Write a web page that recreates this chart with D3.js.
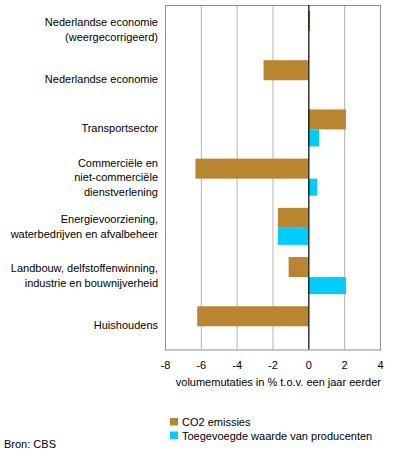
<!DOCTYPE html>
<html>
<head>
<meta charset="utf-8">
<script src="https://cdn.jsdelivr.net/npm/d3@7"></script>
<style>
  body { margin: 0; background: #fff; }
  svg text { font-family: "Liberation Sans", Arial, sans-serif; font-size: 11px; fill: #000; }
</style>
</head>
<body>
<svg id="chart" width="396" height="457"></svg>
<script>
// Categories (each label split into lines)
const categories = [
  ["Nederlandse economie", "(weergecorrigeerd)"],
  ["Nederlandse economie"],
  ["Transportsector"],
  ["Commerciële en", "niet-commerciële", "dienstverlening"],
  ["Energievoorziening,", "waterbedrijven en afvalbeheer"],
  ["Landbouw, delfstoffenwinning,", "industrie en bouwnijverheid"],
  ["Huishoudens"]
];

const seriesNames = ["CO2 emissies", "Toegevoegde waarde van producenten"];
const co2Values = [0.1, -2.5, 2.1, -6.3, -1.7, -1.1, -6.2];
const waardeValues = [null, null, 0.6, 0.5, -1.7, 2.1, null];
const xTicks = [-8, -6, -4, -2, 0, 2, 4];

const colors = ["#b98530", "#00ccff"];

const svg = d3.select("#chart");

// Plot area
const plotLeft = 165, plotRight = 380, plotTop = 5, plotBottom = 349.5;

const x = d3.scaleLinear().domain([-8, 4]).range([plotLeft, plotRight]);

const y0 = d3.scaleBand()
  .domain(d3.range(categories.length))
  .range([plotTop, plotBottom]);

// Sub band for the two series inside a category
const y1 = d3.scaleBand()
  .domain(seriesNames)
  .range([6, 46]);

// Gridlines
svg.append("g")
  .selectAll("line")
  .data(xTicks.filter((d) => d !== 0 && d !== -8 && d !== 4))
  .enter()
  .append("line")
  .attr("x1", (d) => x(d) + 0.5)
  .attr("x2", (d) => x(d) + 0.5)
  .attr("y1", plotTop)
  .attr("y2", plotBottom)
  .attr("stroke", "#b4b4b4")
  .attr("stroke-width", 1);

// Bars
const seriesData = [co2Values, waardeValues];
seriesData.forEach((vals, s) => {
  svg.append("g")
    .selectAll("rect")
    .data(vals.map((v, i) => ({ v, i })).filter((d) => d.v !== null))
    .enter()
    .append("rect")
    .attr("x", (d) => x(Math.min(0, d.v)))
    .attr("y", (d) => y0(d.i) + y1(seriesNames[s]))
    .attr("width", (d) => Math.abs(x(d.v) - x(0)))
    .attr("height", s === 0 ? y1.bandwidth() : y1.bandwidth() - 3)
    .attr("fill", colors[s]);
});

// Plot border
svg.append("rect")
  .attr("x", plotLeft + 0.5)
  .attr("y", plotTop + 0.5)
  .attr("width", plotRight - plotLeft)
  .attr("height", plotBottom - plotTop)
  .attr("fill", "none")
  .attr("stroke", "#8c8c8c")
  .attr("stroke-width", 1);

// Zero line
svg.append("line")
  .attr("x1", x(0) + 0.5)
  .attr("x2", x(0) + 0.5)
  .attr("y1", plotTop)
  .attr("y2", plotBottom)
  .attr("stroke", "#000")
  .attr("stroke-width", 1.2);

// X axis labels (plain hyphen minus, as in the reference)
const xAxis = svg.append("g")
  .attr("transform", `translate(0, ${plotBottom + 12})`)
  .call(d3.axisBottom(x).tickValues(xTicks).tickSize(0).tickPadding(0).tickFormat((d) => String(d)));
xAxis.select(".domain").remove();
xAxis.selectAll("text")
  .attr("dy", "0.71em")
  .style("font-family", "'Liberation Sans', Arial, sans-serif")
  .style("font-size", "11px");

svg.append("text")
  .attr("x", 381)
  .attr("y", 386)
  .attr("text-anchor", "end")
  .text("volumemutaties in % t.o.v. een jaar eerder");

// Category labels
const lineH = 14.5;
categories.forEach((lines, i) => {
  const cy = y0(i) + y0.bandwidth() / 2;
  const t = svg.append("text")
    .attr("text-anchor", "end")
    .attr("x", 158)
    .attr("y", cy - ((lines.length - 1) * lineH) / 2 + 4);
  lines.forEach((line, j) => {
    t.append("tspan")
      .attr("x", 158)
      .attr("dy", j === 0 ? 0 : lineH)
      .text(line);
  });
});

// Legend
const legend = svg.append("g");
seriesNames.forEach((name, i) => {
  const ly = 418 + i * 13.5;
  legend.append("rect")
    .attr("x", 170)
    .attr("y", ly)
    .attr("width", 8)
    .attr("height", 7.5)
    .attr("fill", colors[i]);
  legend.append("text")
    .attr("x", 182)
    .attr("y", ly + 8)
    .text(name);
});

svg.append("text")
  .attr("x", 4)
  .attr("y", 448)
  .text("Bron: CBS");
</script>
</body>
</html>
